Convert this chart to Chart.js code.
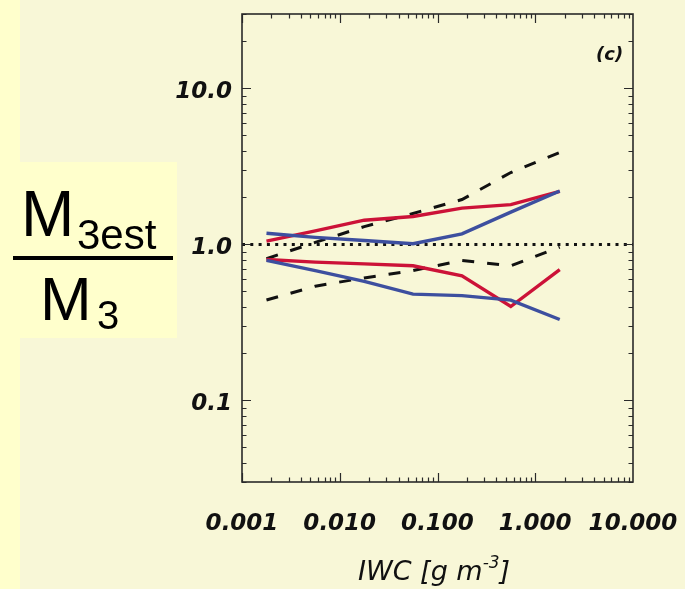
<!DOCTYPE html>
<html lang="en">
<head>
<meta charset="UTF-8">
<title>M3est / M3 vs IWC</title>
<script src="https://cdn.jsdelivr.net/npm/chart.js"></script>
<style>
  body { margin: 0; background: #f8f7d7; }
  #wrap { position: relative; width: 685px; height: 589px; overflow: hidden; }
  #strip { position: absolute; left: 0; top: 0; width: 20px; height: 589px; background: #ffffcc; }
  #ybox { position: absolute; left: 20px; top: 162px; width: 157px; height: 176px; background: #ffffcc; }
  .t { position: absolute; line-height: 1; color: #000; white-space: nowrap; }
  .sans { font-family: "Liberation Sans", Arial, sans-serif; }
  .obl { font-family: "DejaVu Sans", sans-serif; font-style: italic; color: #111; }
  #bar { position: absolute; left: 13px; top: 256px; width: 160px; height: 4px; background: #000; }
  #chartBox { position: absolute; left: 0; top: 0; width: 685px; height: 589px; }
</style>
</head>
<body>
<div id="wrap">
    <div id="strip"></div>
    <div id="ybox"></div>
    <div id="chartBox"><canvas id="chart"></canvas></div>

    <!-- y axis label: M3est / M3 -->
    <span class="t sans" style="left:21px; top:182px; font-size:64px;">M</span>
    <span class="t sans" style="left:77px; top:214px; font-size:42px;">3est</span>
    <div id="bar"></div>
    <span class="t sans" style="left:40px; top:268px; font-size:62px;">M</span>
    <span class="t sans" style="left:97px; top:295px; font-size:40px;">3</span>

    <!-- panel tag and x axis title -->
    <span class="t obl" style="left:596px; top:45px; font-size:18px; font-weight:bold;">(c)</span>
    <span class="t obl" style="left:358px; top:557px; font-size:27px;">IWC [g m<sup style="font-size:17px; vertical-align:0; position:relative; top:-12px;">-3</sup>]</span>
</div>

<script>
// bin centres, IWC [g m^-3]
const iwc = [0.00178, 0.00562, 0.0178, 0.0562, 0.178, 0.562, 1.78];

// ratio curves
const blueUpper = [1.18, 1.11, 1.06, 1.01, 1.17, 1.61, 2.20];
const blueLower = [0.79, 0.68, 0.58, 0.48, 0.47, 0.44, 0.33];
const redUpper  = [1.05, 1.22, 1.43, 1.51, 1.71, 1.80, 2.19];
const redLower  = [0.80, 0.77, 0.75, 0.73, 0.63, 0.40, 0.69];
const dashUpper = [0.81, 1.03, 1.30, 1.58, 1.94, 2.89, 3.89];
const dashLower = [0.44, 0.54, 0.61, 0.68, 0.79, 0.73, 0.96];

// reference line M3est = M3
const refX = [0.001, 10];
const refY = [1, 1];

// labelled ticks
const xTicks = [0.001, 0.01, 0.1, 1, 10];
const xTickText = ['0.001', '0.010', '0.100', '1.000', '10.000'];
const yTicks = [0.1, 1, 10];
const yTickText = ['0.1', '1.0', '10.0'];

const RED = '#cc1238';
const BLUE = '#3d4f9f';

function pts(xs, ys) {
    return xs.map((x, i) => ({ x: x, y: ys[i] }));
}

function line(data, color, dash) {
    return {
        data: data,
        borderColor: color,
        borderWidth: dash ? 3 : 3.4,
        borderDash: dash || [],
        pointRadius: 0,
        fill: false,
        tension: 0
    };
}

// frame with inward ticks on all four sides
const frameTicks = {
    id: 'frameTicks',
    afterDatasetsDraw(chart) {
        const { ctx, chartArea: a, scales: { x, y } } = chart;
        ctx.save();
        ctx.strokeStyle = '#2a2a2a';
        ctx.lineWidth = 1.2;
        ctx.beginPath();
        for (let e = -3; e <= 0; e++) {
            for (let m = 1; m <= 9; m++) {
                const v = m * Math.pow(10, e);
                const px = Math.round(x.getPixelForValue(v)) + 0.5;
                const len = m === 1 ? 9 : 4.5;
                ctx.moveTo(px, a.bottom); ctx.lineTo(px, a.bottom - len);
                ctx.moveTo(px, a.top); ctx.lineTo(px, a.top + len);
            }
        }
        for (let e = -2; e <= 1; e++) {
            for (let m = 1; m <= 9; m++) {
                const v = m * Math.pow(10, e);
                if (v < y.min || v > y.max) continue;
                const py = Math.round(y.getPixelForValue(v)) + 0.5;
                const len = m === 1 ? 9 : 4.5;
                ctx.moveTo(a.left, py); ctx.lineTo(a.left + len, py);
                ctx.moveTo(a.right, py); ctx.lineTo(a.right - len, py);
            }
        }
        ctx.stroke();
        ctx.lineWidth = 1.6;
        ctx.strokeRect(a.left, a.top, a.right - a.left, a.bottom - a.top);
        ctx.restore();
    }
};

const tickFont = { family: 'DejaVu Sans', style: 'italic', weight: 'bold', size: 23 };

new Chart(document.getElementById('chart'), {
    type: 'line',
    data: {
        datasets: [
            line(pts(iwc, blueUpper), BLUE),
            line(pts(iwc, blueLower), BLUE),
            line(pts(iwc, redUpper), RED),
            line(pts(iwc, redLower), RED),
            line(pts(iwc, dashUpper), '#111', [12, 13]),
            line(pts(iwc, dashLower), '#111', [12, 13]),
            line(pts(refX, refY), '#111', [3, 5.3])
        ]
    },
    options: {
        responsive: true,
        maintainAspectRatio: false,
        animation: false,
        devicePixelRatio: 1,
        layout: { padding: { left: 0, top: 14, right: 52, bottom: 0 } },
        plugins: { legend: { display: false }, tooltip: { enabled: false } },
        scales: {
            x: {
                type: 'logarithmic',
                min: 0.001,
                max: 10,
                afterBuildTicks: s => { s.ticks = xTicks.map(v => ({ value: v })); },
                afterFit: s => {
                    s.height = 107;
                    s.paddingLeft = 0;
                    s.paddingRight = 0;
                },
                grid: { display: false, drawTicks: false },
                border: { display: false },
                ticks: {
                    autoSkip: false,
                    maxRotation: 0,
                    padding: 28,
                    color: '#111',
                    font: tickFont,
                    callback: (v, i) => xTickText[i]
                }
            },
            y: {
                type: 'logarithmic',
                min: 0.03,
                max: 30,
                afterBuildTicks: s => { s.ticks = yTicks.map(v => ({ value: v })); },
                afterFit: s => {
                    s.width = 242;
                    s.paddingTop = 0;
                    s.paddingBottom = 0;
                },
                grid: { display: false, drawTicks: false },
                border: { display: false },
                ticks: {
                    autoSkip: false,
                    padding: 10,
                    labelOffset: 4,
                    color: '#111',
                    font: tickFont,
                    callback: (v, i) => yTickText[i]
                }
            }
        }
    },
    plugins: [frameTicks]
});
</script>
</body>
</html>
